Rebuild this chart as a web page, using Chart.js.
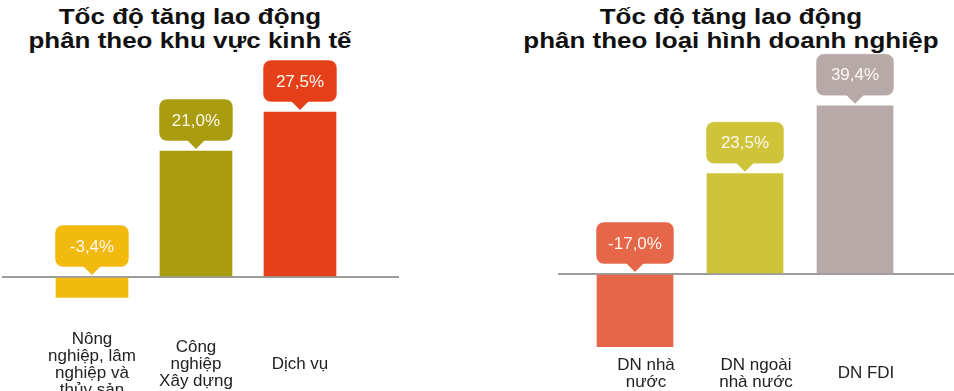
<!DOCTYPE html>
<html>
<head>
<meta charset="utf-8">
<script src="https://cdn.jsdelivr.net/npm/chart.js@4.4.1/dist/chart.umd.min.js"></script>
<style>
  html, body { margin: 0; padding: 0; background: #fff; overflow: hidden; }
  body { width: 954px; height: 391px; position: relative; }
  .title {
    position: absolute; top: 5px; width: 500px; margin-left: -250px;
    font-family: "Liberation Sans", Arial, sans-serif; font-weight: bold;
    font-size: 22px; line-height: 24px; color: #111; text-align: center;
    transform: scaleX(1.18); transform-origin: center top; white-space: nowrap;
  }
  canvas { position: absolute; top: 0; }
</style>
</head>
<body>
<div class="title" style="left:190px">Tốc độ tăng lao động<br>phân theo khu vực kinh tế</div>
<div class="title" style="left:731px">Tốc độ tăng lao động<br>phân theo loại hình doanh nghiệp</div>
<canvas id="leftChart" width="420" height="417" style="left:0px"></canvas>
<canvas id="rightChart" width="414" height="409" style="left:540px"></canvas>
<script>
// ===== DATA =====
const leftCategories = [["Nông", "nghiệp, lâm", "nghiệp và", "thủy sản"], ["Công", "nghiệp", "Xây dựng"], ["Dịch vụ"]];
const leftValues = [-3.4, 21.0, 27.5];
const leftColors = ["#F2B90F", "#A99C0E", "#E5401A"];

const rightCategories = [["DN nhà", "nước"], ["DN ngoài", "nhà nước"], ["DN FDI"]];
const rightValues = [-17.0, 23.5, 39.4];
const rightColors = ["#E6664A", "#CFC33A", "#B7A9A8"];

const FONT = "'Liberation Sans', Arial, sans-serif";

function fmt(v){
    return v.toFixed(1).replace(".", ",") + "%";
}

// speech-bubble value labels above each bar
const bubbleLabels = {
    id: "bubbleLabels",
    afterDatasetsDraw(chart){
        const c = chart.ctx;
        const yScale = chart.scales.y;
        const meta = chart.getDatasetMeta(0);
        const ds = chart.data.datasets[0];
        c.save();
        c.font = "17px " + FONT;
        meta.data.forEach((bar, i) => {
            const v = ds.data[i].y;
            const tip = yScale.getPixelForValue(Math.max(v, 0)) - 2;
            const txt = fmt(v);
            const w = Math.max(bar.width + 2, c.measureText(txt).width + 24);
            const h = 42;
            const bottom = tip - 8;
            const top = bottom - h;
            const left = bar.x - w / 2;
            const col = ds.backgroundColor[i];
            c.fillStyle = col;
            c.strokeStyle = "rgba(255,255,255,0.55)";
            c.lineWidth = 1;
            c.beginPath();
            c.roundRect(left, top, w, h, 8);
            c.fill();
            c.stroke();
            c.beginPath();
            c.moveTo(bar.x - 9, bottom - 1);
            c.lineTo(bar.x + 9, bottom - 1);
            c.lineTo(bar.x, tip);
            c.closePath();
            c.fill();
            c.fillStyle = "#fdf7ee";
            c.textAlign = "center";
            c.textBaseline = "middle";
            c.fillText(txt, bar.x, top + h / 2 + 1);
        });
        c.restore();
    }
};

function makeChart(id, cats, vals, colors, opt){
    return new Chart(document.getElementById(id), {
        type: "bar",
        data: {
            datasets: [{
                data: vals.map((v, i) => ({x: i, y: v})),
                backgroundColor: colors,
                borderWidth: 0,
                barThickness: opt.barWidth
            }]
        },
        options: {
            responsive: false,
            animation: false,
            devicePixelRatio: 1,
            layout: {padding: opt.padding},
            plugins: {legend: {display: false}, tooltip: {enabled: false}},
            scales: {
                x: {
                    type: "linear",
                    offset: false,
                    min: opt.xMin, max: opt.xMax,
                    grid: {display: false, drawTicks: false},
                    border: {display: false},
                    afterBuildTicks: s => { s.ticks = cats.map((_, i) => ({value: i})); },
                    ticks: {
                        callback: v => cats[v],
                        font: {family: FONT, size: 17, lineHeight: 1.0},
                        color: "#222",
                        padding: 10,
                        crossAlign: "center",
                        labelOffset: opt.labelOffset,
                        maxRotation: 0,
                        autoSkip: false
                    }
                },
                y: {
                    min: opt.yMin, max: opt.yMax,
                    afterBuildTicks: s => { s.ticks = [{value: 0}]; },
                    ticks: {display: false},
                    border: {display: false},
                    grid: {
                        drawTicks: false,
                        lineWidth: 2,
                        color: ctx => ctx.tick && ctx.tick.value === 0 ? "#9c9c9c" : "rgba(0,0,0,0)"
                    }
                }
            }
        },
        plugins: [bubbleLabels]
    });
}

makeChart("leftChart", leftCategories, leftValues, leftColors, {
    barWidth: 72, padding: {left: 2, right: 21, top: 0, bottom: 0},
    xMin: -0.865, xMax: 2.952, yMin: -8.67, yMax: 46.17, labelOffset: 0
});

makeChart("rightChart", rightCategories, rightValues, rightColors, {
    barWidth: 76, padding: {left: 18, right: 0, top: 0, bottom: 0},
    xMin: -0.7, xMax: 2.9, yMin: -18.97, yMax: 64.17, labelOffset: 11
});
</script>
</body>
</html>
